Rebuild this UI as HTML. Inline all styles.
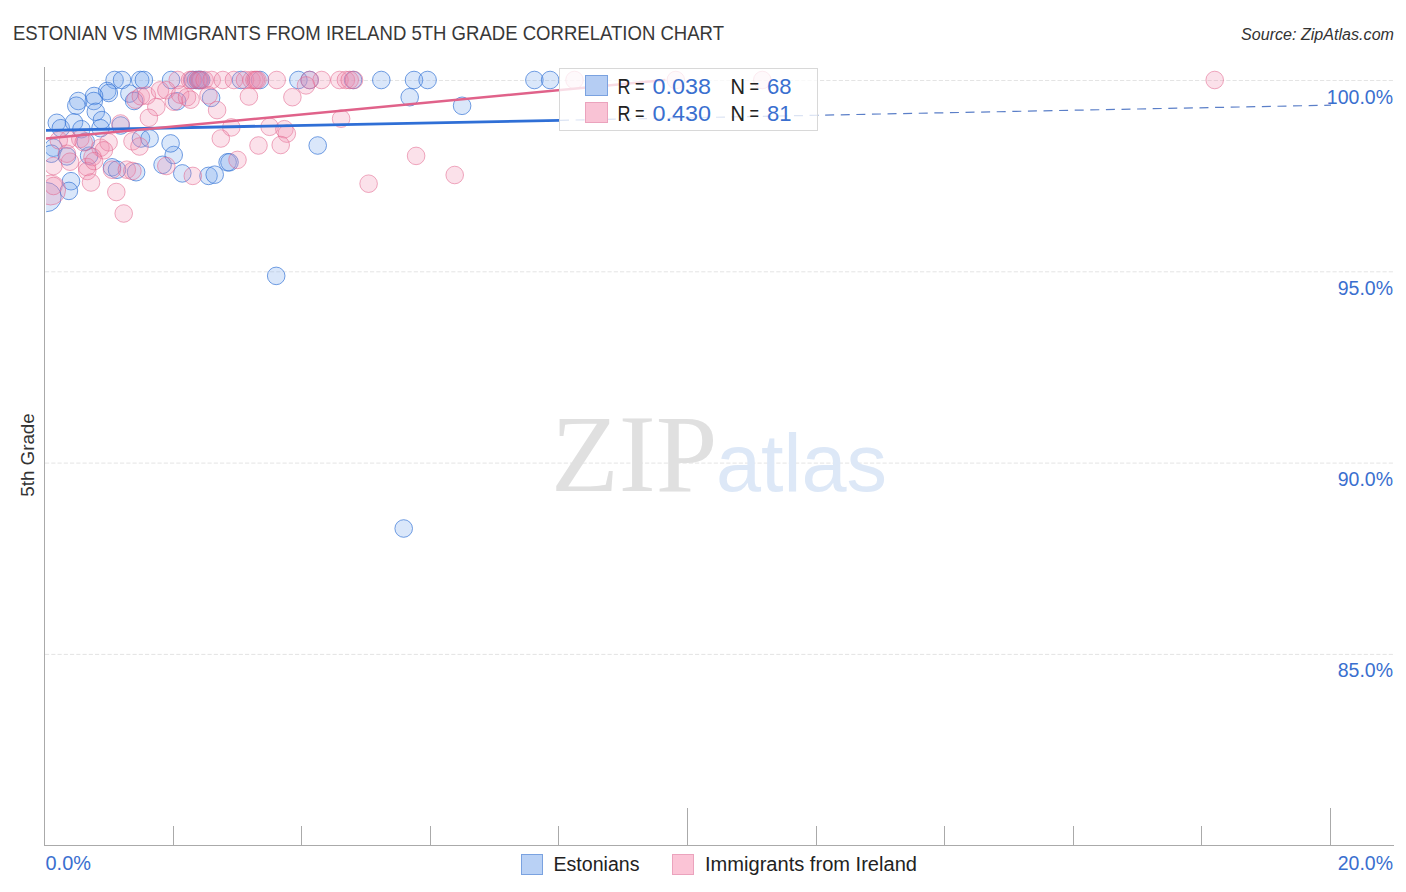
<!DOCTYPE html>
<html><head><meta charset="utf-8">
<style>
html,body{margin:0;padding:0;background:#fff;}
body{width:1406px;height:892px;overflow:hidden;}
svg{display:block;font-family:"Liberation Sans",sans-serif;}
.b{fill:rgba(120,165,235,0.27);stroke:rgba(60,120,215,0.72);stroke-width:1;}
.p{fill:rgba(240,140,175,0.26);stroke:rgba(225,100,140,0.55);stroke-width:1;}
.grid line{stroke:#e4e4e4;stroke-width:1;stroke-dasharray:4.2 2.05;}
.ax line{stroke:#aaaaaa;stroke-width:1;}
.lbl{fill:#3a6fcf;font-size:19.5px;}
</style></head><body>
<svg width="1406" height="892" viewBox="0 0 1406 892">
<defs><clipPath id="clip"><rect x="46" y="62" width="1360" height="783"/></clipPath></defs>
<text x="13" y="40" font-size="19.8" fill="#383838" textLength="711" lengthAdjust="spacingAndGlyphs">ESTONIAN VS IMMIGRANTS FROM IRELAND 5TH GRADE CORRELATION CHART</text>
<text x="1241" y="39.5" font-size="16" fill="#333" font-style="italic" textLength="153" lengthAdjust="spacingAndGlyphs">Source: ZipAtlas.com</text>
<g class="grid"><line x1="45" y1="80.5" x2="1394" y2="80.5" /><line x1="45" y1="271.8" x2="1394" y2="271.8" /><line x1="45" y1="463.1" x2="1394" y2="463.1" /><line x1="45" y1="654.4" x2="1394" y2="654.4" /></g>
<g font-size="111" fill="#e0e0e0" font-family="Liberation Serif"><text x="551" y="491">ZIP</text></g>
<g font-size="81" fill="#dde8f7"><text x="716" y="491">atlas</text></g>
<g clip-path="url(#clip)">
<circle class="b" cx="46.6" cy="197.1" r="14.6"/>
<circle class="b" cx="114.6" cy="80" r="8.8"/>
<circle class="b" cx="122" cy="80" r="8.8"/>
<circle class="b" cx="140.2" cy="80" r="8.8"/>
<circle class="b" cx="143.9" cy="80" r="8.8"/>
<circle class="b" cx="171.1" cy="80" r="8.8"/>
<circle class="b" cx="193" cy="80" r="8.8"/>
<circle class="b" cx="196.1" cy="80" r="8.8"/>
<circle class="b" cx="198.6" cy="80" r="8.8"/>
<circle class="b" cx="199.5" cy="80" r="8.8"/>
<circle class="b" cx="201.2" cy="80" r="8.8"/>
<circle class="b" cx="241" cy="80" r="8.8"/>
<circle class="b" cx="260" cy="80" r="8.8"/>
<circle class="b" cx="298.4" cy="80" r="8.8"/>
<circle class="b" cx="309.6" cy="80" r="8.8"/>
<circle class="b" cx="353" cy="80" r="8.8"/>
<circle class="b" cx="381.3" cy="80" r="8.8"/>
<circle class="b" cx="414" cy="80" r="8.8"/>
<circle class="b" cx="427.6" cy="80" r="8.8"/>
<circle class="b" cx="534.4" cy="80" r="8.8"/>
<circle class="b" cx="550.1" cy="80" r="8.8"/>
<circle class="b" cx="107.2" cy="91" r="8.8"/>
<circle class="b" cx="108.8" cy="93" r="8.8"/>
<circle class="b" cx="94.1" cy="96" r="8.8"/>
<circle class="b" cx="93.8" cy="101" r="8.8"/>
<circle class="b" cx="78.3" cy="101" r="8.8"/>
<circle class="b" cx="76.3" cy="105.7" r="8.8"/>
<circle class="b" cx="95.8" cy="111.8" r="8.8"/>
<circle class="b" cx="129.4" cy="93.6" r="8.8"/>
<circle class="b" cx="134.1" cy="101" r="8.8"/>
<circle class="b" cx="177.1" cy="101.3" r="8.8"/>
<circle class="b" cx="211.1" cy="97.9" r="8.8"/>
<circle class="b" cx="409.7" cy="97.2" r="8.8"/>
<circle class="b" cx="462.1" cy="105.8" r="8.8"/>
<circle class="b" cx="56.8" cy="122.8" r="8.8"/>
<circle class="b" cx="60.8" cy="128.2" r="8.8"/>
<circle class="b" cx="74" cy="122.4" r="8.8"/>
<circle class="b" cx="81.4" cy="129.2" r="8.8"/>
<circle class="b" cx="101.9" cy="120.1" r="8.8"/>
<circle class="b" cx="100.5" cy="128.2" r="8.8"/>
<circle class="b" cx="120.7" cy="125.5" r="8.8"/>
<circle class="b" cx="53.4" cy="147.7" r="8.8"/>
<circle class="b" cx="51.4" cy="153.7" r="8.8"/>
<circle class="b" cx="66.9" cy="156.4" r="8.8"/>
<circle class="b" cx="89.1" cy="155.7" r="8.8"/>
<circle class="b" cx="85.7" cy="141.6" r="8.8"/>
<circle class="b" cx="141" cy="138.5" r="8.8"/>
<circle class="b" cx="149.6" cy="138.5" r="8.8"/>
<circle class="b" cx="112" cy="167.3" r="8.8"/>
<circle class="b" cx="117" cy="169.7" r="8.8"/>
<circle class="b" cx="136.1" cy="172.2" r="8.8"/>
<circle class="b" cx="162.6" cy="164.8" r="8.8"/>
<circle class="b" cx="173.7" cy="155" r="8.8"/>
<circle class="b" cx="170.6" cy="143.4" r="8.8"/>
<circle class="b" cx="182.3" cy="173.4" r="8.8"/>
<circle class="b" cx="71" cy="181.2" r="8.8"/>
<circle class="b" cx="68.9" cy="190.9" r="8.8"/>
<circle class="b" cx="208.5" cy="175.9" r="8.8"/>
<circle class="b" cx="214.7" cy="174.7" r="8.8"/>
<circle class="b" cx="227.6" cy="162.3" r="8.8"/>
<circle class="b" cx="229.5" cy="162.3" r="8.8"/>
<circle class="b" cx="317.7" cy="145.5" r="8.8"/>
<circle class="b" cx="276.2" cy="275.9" r="8.8"/>
<circle class="b" cx="403.7" cy="528.5" r="8.8"/>
<circle class="p" cx="50.6" cy="190" r="15"/>
<circle class="p" cx="177.7" cy="80" r="8.8"/>
<circle class="p" cx="190" cy="80" r="8.8"/>
<circle class="p" cx="192" cy="80" r="8.8"/>
<circle class="p" cx="198" cy="80" r="8.8"/>
<circle class="p" cx="200.3" cy="80" r="8.8"/>
<circle class="p" cx="204.6" cy="80" r="8.8"/>
<circle class="p" cx="211.7" cy="80" r="8.8"/>
<circle class="p" cx="222.8" cy="80" r="8.8"/>
<circle class="p" cx="233.9" cy="80" r="8.8"/>
<circle class="p" cx="245" cy="80" r="8.8"/>
<circle class="p" cx="251.5" cy="80" r="8.8"/>
<circle class="p" cx="254.5" cy="80" r="8.8"/>
<circle class="p" cx="256" cy="80" r="8.8"/>
<circle class="p" cx="257.5" cy="80" r="8.8"/>
<circle class="p" cx="276.7" cy="80" r="8.8"/>
<circle class="p" cx="309.7" cy="80" r="8.8"/>
<circle class="p" cx="321.6" cy="80" r="8.8"/>
<circle class="p" cx="339.5" cy="80" r="8.8"/>
<circle class="p" cx="345.9" cy="80" r="8.8"/>
<circle class="p" cx="349.7" cy="80" r="8.8"/>
<circle class="p" cx="354" cy="80" r="8.8"/>
<circle class="p" cx="574.5" cy="80" r="8.8"/>
<circle class="p" cx="675.8" cy="80" r="8.8"/>
<circle class="p" cx="762.3" cy="80" r="8.8"/>
<circle class="p" cx="1214.7" cy="80" r="8.8"/>
<circle class="p" cx="120.5" cy="123.5" r="8.8"/>
<circle class="p" cx="58.8" cy="140.3" r="8.8"/>
<circle class="p" cx="68.2" cy="139.6" r="8.8"/>
<circle class="p" cx="80.3" cy="138.9" r="8.8"/>
<circle class="p" cx="83.7" cy="142.3" r="8.8"/>
<circle class="p" cx="66.9" cy="153.7" r="8.8"/>
<circle class="p" cx="100.5" cy="147.7" r="8.8"/>
<circle class="p" cx="108.6" cy="142.3" r="8.8"/>
<circle class="p" cx="103.9" cy="150.3" r="8.8"/>
<circle class="p" cx="92.5" cy="157" r="8.8"/>
<circle class="p" cx="132.5" cy="141.3" r="8.8"/>
<circle class="p" cx="87" cy="167" r="8.8"/>
<circle class="p" cx="53.4" cy="166" r="8.8"/>
<circle class="p" cx="135.5" cy="99.7" r="8.8"/>
<circle class="p" cx="140.8" cy="96.3" r="8.8"/>
<circle class="p" cx="146.9" cy="95.6" r="8.8"/>
<circle class="p" cx="160" cy="90.4" r="8.8"/>
<circle class="p" cx="166.4" cy="90.2" r="8.8"/>
<circle class="p" cx="156.3" cy="107" r="8.8"/>
<circle class="p" cx="173.8" cy="101.7" r="8.8"/>
<circle class="p" cx="180.2" cy="94.6" r="8.8"/>
<circle class="p" cx="187" cy="97.2" r="8.8"/>
<circle class="p" cx="190.6" cy="99.7" r="8.8"/>
<circle class="p" cx="148.9" cy="117.8" r="8.8"/>
<circle class="p" cx="70" cy="161.7" r="8.8"/>
<circle class="p" cx="87.3" cy="171" r="8.8"/>
<circle class="p" cx="91" cy="182.5" r="8.8"/>
<circle class="p" cx="94.1" cy="161.1" r="8.8"/>
<circle class="p" cx="112" cy="169.7" r="8.8"/>
<circle class="p" cx="126.8" cy="169.7" r="8.8"/>
<circle class="p" cx="132.4" cy="171" r="8.8"/>
<circle class="p" cx="116.3" cy="192" r="8.8"/>
<circle class="p" cx="123.7" cy="213.5" r="8.8"/>
<circle class="p" cx="166.3" cy="166" r="8.8"/>
<circle class="p" cx="192.8" cy="175.9" r="8.8"/>
<circle class="p" cx="139.5" cy="146.5" r="8.8"/>
<circle class="p" cx="53.5" cy="186" r="8.8"/>
<circle class="p" cx="208.5" cy="95.3" r="8.8"/>
<circle class="p" cx="217.1" cy="110.1" r="8.8"/>
<circle class="p" cx="248.9" cy="96.5" r="8.8"/>
<circle class="p" cx="292.4" cy="97.2" r="8.8"/>
<circle class="p" cx="306" cy="85.4" r="8.8"/>
<circle class="p" cx="341.1" cy="118.7" r="8.8"/>
<circle class="p" cx="231.3" cy="127.4" r="8.8"/>
<circle class="p" cx="220.8" cy="138.5" r="8.8"/>
<circle class="p" cx="269.6" cy="126.8" r="8.8"/>
<circle class="p" cx="284.4" cy="129.2" r="8.8"/>
<circle class="p" cx="286.8" cy="133.6" r="8.8"/>
<circle class="p" cx="258.5" cy="145.5" r="8.8"/>
<circle class="p" cx="280.7" cy="145" r="8.8"/>
<circle class="p" cx="237.5" cy="159.9" r="8.8"/>
<circle class="p" cx="368.6" cy="183.7" r="8.8"/>
<circle class="p" cx="416.1" cy="155.9" r="8.8"/>
<circle class="p" cx="454.7" cy="175" r="8.8"/>
<line x1="44" y1="130.4" x2="560" y2="120.3" stroke="#2f6fd6" stroke-width="2.8"/>
<line x1="560" y1="120.3" x2="1331" y2="105.2" stroke="#5b7fc8" stroke-width="1.2" stroke-dasharray="9 6.6"/>
<line x1="44" y1="138.8" x2="665.4" y2="80" stroke="#e0628a" stroke-width="2.5"/>
</g>
<g class="ax">
<line x1="44.5" y1="67" x2="44.5" y2="846"/>
<line x1="44" y1="845.5" x2="1394" y2="845.5"/>
<line x1="173.5" y1="826" x2="173.5" y2="845" /><line x1="301.5" y1="826" x2="301.5" y2="845" /><line x1="430.5" y1="826" x2="430.5" y2="845" /><line x1="558.5" y1="826" x2="558.5" y2="845" /><line x1="687.5" y1="808" x2="687.5" y2="845" /><line x1="816.5" y1="826" x2="816.5" y2="845" /><line x1="944.5" y1="826" x2="944.5" y2="845" /><line x1="1073.5" y1="826" x2="1073.5" y2="845" /><line x1="1201.5" y1="826" x2="1201.5" y2="845" /><line x1="1330.5" y1="808" x2="1330.5" y2="845" />
</g>
<g class="lbl" text-anchor="end">
<text x="1393" y="103.7">100.0%</text>
<text x="1393" y="294.9">95.0%</text>
<text x="1393" y="486">90.0%</text>
<text x="1393" y="677">85.0%</text>
<text x="1393" y="870">20.0%</text>
</g>
<text class="lbl" x="45.5" y="870" textLength="45.5" lengthAdjust="spacingAndGlyphs">0.0%</text>
<text x="33.5" y="455" font-size="19" fill="#333" transform="rotate(-90 33.5 455)" text-anchor="middle" textLength="83.5" lengthAdjust="spacingAndGlyphs">5th Grade</text>
<!-- legend -->
<rect x="559.5" y="68.5" width="258" height="62" fill="rgba(255,255,255,0.78)" stroke="#d8d8d8" stroke-width="1"/>
<rect x="585.5" y="75.5" width="22" height="20" fill="#b5cdf3" stroke="#7aa2e0" stroke-width="1"/>
<rect x="585.5" y="102.5" width="22" height="20" fill="#f9c3d5" stroke="#eba3bd" stroke-width="1"/>
<g font-size="21.5">
<text x="617.5" y="93.5" fill="#222" textLength="13" lengthAdjust="spacingAndGlyphs">R</text><text x="635" y="93.5" fill="#222" textLength="9.5" lengthAdjust="spacingAndGlyphs">=</text><text x="652.5" y="93.5" fill="#3a6fcf" textLength="58.5" lengthAdjust="spacingAndGlyphs">0.038</text>
<text x="730.5" y="93.5" fill="#222" textLength="14.5" lengthAdjust="spacingAndGlyphs">N</text><text x="749.5" y="93.5" fill="#222" textLength="9.5" lengthAdjust="spacingAndGlyphs">=</text><text x="767" y="93.5" fill="#3a6fcf" textLength="24.5" lengthAdjust="spacingAndGlyphs">68</text>
<text x="617.5" y="120.5" fill="#222" textLength="13" lengthAdjust="spacingAndGlyphs">R</text><text x="635" y="120.5" fill="#222" textLength="9.5" lengthAdjust="spacingAndGlyphs">=</text><text x="652.5" y="120.5" fill="#3a6fcf" textLength="58.5" lengthAdjust="spacingAndGlyphs">0.430</text>
<text x="730.5" y="120.5" fill="#222" textLength="14.5" lengthAdjust="spacingAndGlyphs">N</text><text x="749.5" y="120.5" fill="#222" textLength="9.5" lengthAdjust="spacingAndGlyphs">=</text><text x="767" y="120.5" fill="#3a6fcf" textLength="24.5" lengthAdjust="spacingAndGlyphs">81</text>
</g>
<rect x="521.5" y="854.5" width="21" height="20" fill="#b9d1f5" stroke="#7aa2e0" stroke-width="1"/>
<text x="553.5" y="871" font-size="19.5" fill="#222" textLength="86" lengthAdjust="spacingAndGlyphs">Estonians</text>
<rect x="672.5" y="854.5" width="21" height="20" fill="#fbc4d6" stroke="#eba3bd" stroke-width="1"/>
<text x="705" y="871" font-size="19.5" fill="#222" textLength="212" lengthAdjust="spacingAndGlyphs">Immigrants from Ireland</text>
</svg>
</body></html>
